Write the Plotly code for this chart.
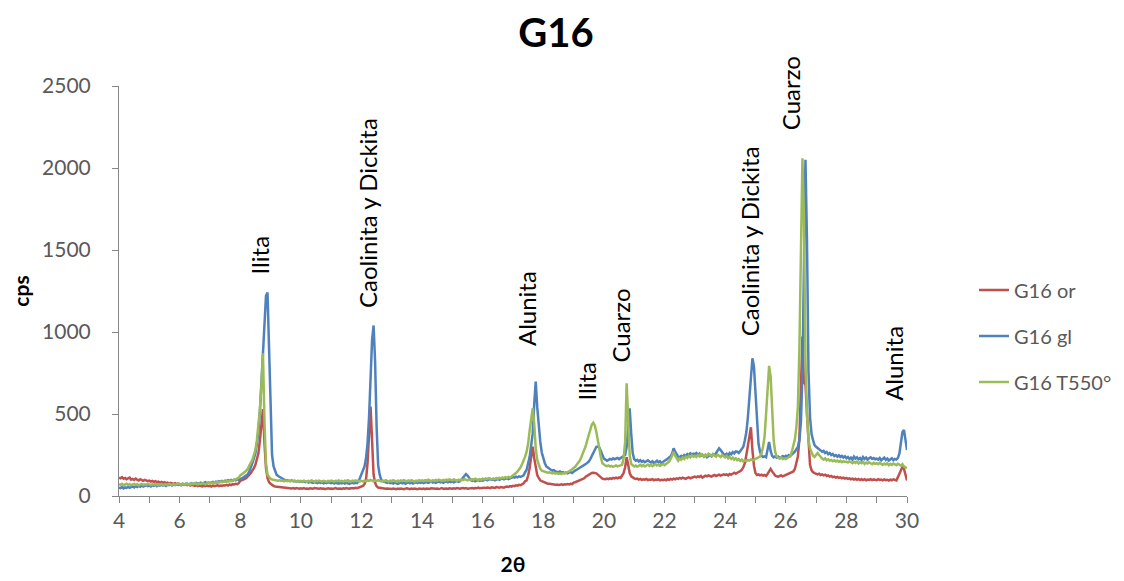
import numpy as np
import plotly.graph_objects as go

# 2-theta grid: 4.00 .. 30.00 in 0.05 steps
two_theta = np.round(np.arange(4.0, 30.0001, 0.05), 2)

g16_or = [
    112,108,115,105,110,102,108,112,100,104,98,106,100,95,102,96,92,98,94,90,
    94,88,92,86,90,84,88,82,86,80,84,78,82,76,80,78,74,78,72,76,
    74,70,74,68,72,66,70,64,68,66,62,66,60,64,62,58,62,60,64,60,
    62,58,64,60,62,66,60,64,62,66,64,68,64,70,66,72,70,74,72,78,
    92,95,100,104,110,118,130,140,152,170,190,220,260,340,440,530,320,170,110,85,
    75,66,62,58,57,55,52,54,50,52,48,50,47,49,46,48,45,48,46,44,
    47,45,48,44,46,43,47,45,44,48,46,43,45,47,44,46,42,45,47,44,
    46,43,45,48,44,46,45,43,47,45,48,46,44,47,49,46,50,48,52,55,
    58,62,72,98,200,370,545,340,130,80,60,52,50,48,46,47,45,46,44,45,
    43,46,44,42,45,43,46,44,42,45,47,44,42,46,43,45,44,42,46,44,
    43,45,42,46,44,43,47,45,42,44,46,43,45,48,44,46,45,43,47,46,
    44,47,45,48,46,44,47,49,46,48,45,47,50,48,46,49,47,51,48,50,
    48,51,49,52,50,48,53,51,49,54,52,50,55,53,51,56,58,55,60,57,
    62,60,65,63,68,66,72,78,90,95,125,170,240,301,230,165,128,110,95,90,
    85,80,78,75,74,72,70,72,68,70,67,69,71,68,72,70,73,71,74,72,
    82,84,88,90,94,98,102,108,118,124,130,136,140,142,142,138,130,120,110,106,
    104,102,106,103,108,105,110,107,112,108,114,110,125,140,175,236,190,140,120,112,
    108,104,106,100,104,98,102,100,104,97,101,99,103,96,100,98,102,95,99,97,
    100,96,102,98,104,100,106,102,108,104,110,106,112,108,105,110,114,108,112,116,
    118,114,120,116,122,112,118,124,120,126,122,118,124,128,122,126,130,124,128,132,
    128,132,126,134,130,138,142,136,145,148,152,160,175,200,250,310,380,419,280,185,
    140,128,132,126,130,124,128,122,135,150,165,150,135,125,120,118,122,126,120,124,
    128,132,135,140,145,150,165,195,240,350,650,972,690,680,500,300,190,158,145,140,
    138,132,136,128,132,126,130,122,126,118,122,115,118,112,116,110,114,108,112,106,
    110,104,108,102,106,100,105,99,104,98,103,97,102,96,100,98,103,97,101,99,
    96,102,98,100,95,101,97,99,94,100,96,102,98,95,115,135,160,179,165,130,
    95,
]

g16_gl = [
    50,48,55,46,52,49,56,50,54,58,52,60,55,62,57,64,58,62,66,60,
    64,58,66,62,68,60,66,63,70,64,68,62,70,66,72,64,69,66,72,68,
    70,66,74,68,72,76,70,74,78,72,76,80,74,78,82,76,80,84,78,82,
    80,84,86,82,88,84,90,86,92,88,94,90,96,92,98,94,100,96,102,98,
    105,108,112,118,124,132,150,170,200,230,260,320,390,520,700,900,1080,1220,1240,900,
    480,250,180,150,130,122,115,110,105,100,98,96,94,92,95,90,93,88,91,87,
    90,86,89,84,88,82,86,84,80,85,82,78,84,80,83,77,82,79,84,80,
    78,82,76,81,79,75,80,77,82,76,80,78,74,79,81,77,80,78,90,110,
    135,150,180,230,320,480,700,950,1040,820,420,190,130,100,90,85,82,80,84,78,
    80,76,82,78,74,79,83,77,81,75,80,84,78,82,76,81,85,79,83,80,
    84,78,82,86,80,84,88,82,86,80,85,89,83,87,81,86,90,84,88,85,
    89,83,88,92,86,90,100,112,125,134,125,110,98,92,96,90,94,98,92,96,
    94,98,102,96,100,104,98,102,96,100,105,99,103,107,101,105,109,103,107,111,
    115,112,118,114,120,116,122,126,145,160,200,240,310,380,560,697,540,420,330,265,
    225,200,180,172,165,160,155,158,150,148,145,150,142,146,140,144,138,142,146,140,
    150,155,160,165,172,176,180,186,195,202,210,225,245,260,280,300,301,295,275,245,
    228,222,215,220,226,222,230,224,228,232,225,230,235,242,250,300,400,535,380,260,
    225,215,220,210,218,208,214,206,212,218,210,204,212,200,208,215,205,212,200,210,
    215,220,228,235,242,258,291,270,250,240,235,245,238,250,244,256,248,260,252,258,
    255,262,250,258,245,252,240,248,236,244,250,242,256,248,262,272,291,280,265,255,
    250,258,246,262,254,268,260,272,270,262,275,290,300,340,390,480,590,750,840,790,
    620,430,320,270,245,238,242,236,280,330,275,245,236,242,234,240,232,238,244,236,
    245,240,250,244,252,256,270,285,300,340,450,750,1500,2050,1560,760,480,380,340,310,
    300,290,285,278,270,275,262,268,255,262,250,256,244,250,240,248,238,245,235,242,
    230,238,226,234,222,240,228,236,224,232,220,238,226,234,222,230,236,226,232,224,
    228,222,232,218,226,234,220,228,216,224,230,218,226,222,232,260,330,390,403,350,
    280,
]

g16_t550 = [
    72,68,74,66,70,75,68,72,66,70,74,68,72,65,70,74,67,71,69,73,
    70,66,72,68,74,67,71,69,73,66,70,72,68,74,70,67,73,69,71,75,
    72,68,74,70,76,71,73,69,75,72,78,74,70,76,73,79,75,71,77,80,
    76,82,78,84,80,86,82,88,84,90,86,92,88,94,90,96,98,102,106,112,
    125,130,138,146,155,165,185,200,220,250,280,340,420,530,680,870,450,200,130,115,
    105,100,98,95,97,93,96,92,94,90,95,91,93,89,94,90,92,88,93,90,
    92,88,94,90,86,92,89,95,91,87,93,89,94,90,88,93,91,87,92,89,
    94,90,88,93,91,95,89,92,88,94,90,96,92,88,94,90,95,91,93,89,
    92,88,94,90,96,92,98,94,90,95,91,97,93,89,94,90,96,92,88,94,
    90,96,92,88,94,90,95,91,97,93,89,95,91,96,92,88,94,90,96,92,
    95,91,97,93,99,94,90,96,92,98,94,100,96,92,98,94,100,96,102,98,
    95,101,97,93,99,95,101,97,103,99,95,101,97,103,99,105,101,97,103,99,
    105,101,107,103,109,105,101,107,103,109,105,111,107,113,109,115,111,117,113,119,
    125,130,140,150,160,175,195,215,240,270,320,400,480,535,440,290,220,185,165,155,
    152,148,145,142,144,140,138,142,136,140,135,138,134,140,136,142,145,150,156,162,
    172,178,190,200,215,235,255,280,305,340,375,410,435,447,430,390,330,280,235,200,
    190,185,182,186,180,184,178,183,187,181,185,189,190,230,330,687,480,250,195,185,
    180,186,178,184,190,182,188,180,186,192,184,190,182,188,194,186,192,184,190,196,
    188,194,200,210,225,250,270,245,225,215,228,220,235,226,240,232,245,236,248,240,
    245,238,250,242,255,246,240,252,244,258,250,245,255,248,240,252,246,238,250,242,
    236,244,230,238,226,234,222,230,218,226,214,222,210,218,212,220,216,224,218,222,
    225,230,235,240,260,300,360,500,690,793,730,540,340,270,240,232,228,235,226,230,
    225,232,235,242,270,310,345,420,545,900,1450,2060,1700,820,500,340,290,260,245,238,
    250,262,250,238,228,222,230,218,224,215,220,212,218,210,216,208,214,206,212,208,
    210,204,212,206,200,208,202,210,198,206,200,208,196,204,198,206,200,194,202,196,
    200,194,202,196,190,198,192,200,188,196,190,198,194,188,196,190,186,194,180,175,
    170,
]

series_names = ["G16 or", "G16 gl", "G16 T550°"]
series_colors = ["#C0504D", "#4F81BD", "#9BBB59"]
series_values = [g16_or, g16_gl, g16_t550]

peak_labels = ["Ilita", "Caolinita y Dickita", "Alunita", "Ilita", "Cuarzo",
               "Caolinita y Dickita", "Cuarzo", "Alunita"]
peak_label_x = [8.62, 12.22, 17.45, 19.41, 20.55, 24.8, 26.18, 29.55]
peak_label_y = [1336, 1135, 903, 567, 799, 964, 2220, 567]

FONT = "Lato, Calibri, Arial, sans-serif"

fig = go.Figure()
for i, (name, color, vals) in enumerate(zip(series_names, series_colors, series_values)):
    fig.add_trace(go.Scatter(
        x=two_theta, y=vals, mode="lines", name=name,
        line=dict(color=color, width=2.5),
        legendgroup=f"g{i}",
    ))

for txt, xv, yv in zip(peak_labels, peak_label_x, peak_label_y):
    fig.add_annotation(x=xv, y=yv, text=txt, textangle=-90, showarrow=False,
                       xanchor="center", yanchor="bottom",
                       font=dict(family=FONT, size=24, color="#000000"))

fig.update_layout(
    width=1124, height=581, autosize=False,
    margin=dict(l=104, r=225, t=78, b=93),
    paper_bgcolor="white", plot_bgcolor="white",
    title=dict(text="<b>G16</b>", x=0.4875, xanchor="center",
               y=0.981, yanchor="top", pad=dict(t=0, b=0),
               font=dict(family=FONT, size=40, color="#000000")),
    showlegend=True,
    legend=dict(x=1.085, xanchor="left", y=0.39, yanchor="middle",
                font=dict(family=FONT, size=20, color="#595959"),
                tracegroupgap=17, bgcolor="rgba(0,0,0,0)"),
    xaxis=dict(range=[4, 30], dtick=2, tick0=4, showgrid=False, zeroline=False,
               showline=True, linecolor="#868686", linewidth=1,
               ticks="outside", ticklen=6, tickcolor="#868686",
               minor=dict(dtick=1, ticks="outside", ticklen=6, tickcolor="#868686"),
               tickfont=dict(family=FONT, size=21, color="#595959"),
               title=dict(text="<b>2θ</b>", standoff=26,
                          font=dict(family=FONT, size=21, color="#000000"))),
    yaxis=dict(range=[0, 2500], dtick=500, showgrid=False, zeroline=False,
               showline=True, linecolor="#868686", linewidth=1,
               ticks="outside", ticklen=6, tickcolor="#868686",
               ticklabelstandoff=17,
               tickfont=dict(family=FONT, size=21, color="#595959"),
               title=dict(text="<b>cps</b>", standoff=7,
                          font=dict(family=FONT, size=21, color="#000000"))),
)

fig.write_html("out.html")
